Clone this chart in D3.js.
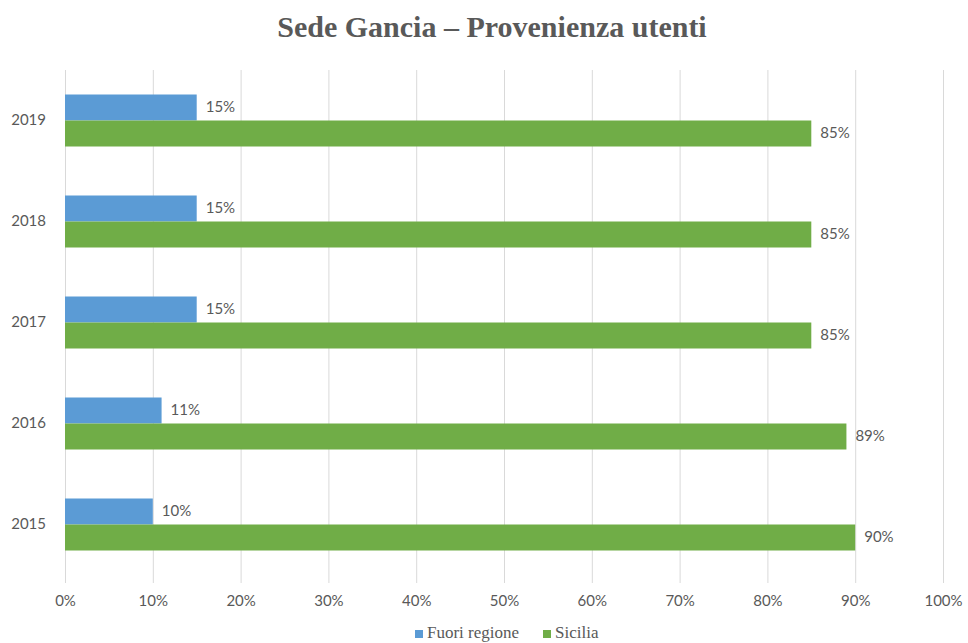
<!DOCTYPE html>
<html>
<head>
<meta charset="utf-8">
<script src="https://cdn.jsdelivr.net/npm/d3@7"></script>
<style>
  html, body { margin: 0; padding: 0; background: #fff; }
  svg { display: block; }
</style>
</head>
<body>
<svg id="chart" width="968" height="643"></svg>
<script>
// Years shown top to bottom
const years = ["2019", "2018", "2017", "2016", "2015"];
// Share of users (%) by origin
const fuoriRegione = [15, 15, 15, 11, 10];
const sicilia = [85, 85, 85, 89, 90];
const seriesNames = ["Fuori regione", "Sicilia"];
const seriesColors = ["#5B9BD5", "#70AD47"];
const xTicks = [0, 10, 20, 30, 40, 50, 60, 70, 80, 90, 100];

const svg = d3.select("#chart");
const margin = { left: 65, right: 25, top: 70, bottom: 68 };
const width = 968, height = 643;

const x = d3.scaleLinear().domain([0, 100]).range([margin.left, width - margin.right]);
const y = d3.scaleBand().domain(years).range([margin.top, height - margin.bottom]);
const barH = 26;

const textColor = "#595959";
const labelFont = "Lato, Calibri, 'Open Sans', sans-serif";
const serifFont = "'Liberation Serif', 'Times New Roman', serif";

// Title
svg.append("text")
  .attr("x", 492).attr("y", 37)
  .attr("text-anchor", "middle")
  .attr("font-family", serifFont)
  .attr("font-weight", "bold")
  .attr("font-size", 30)
  .attr("fill", textColor)
  .text("Sede Gancia \u2013 Provenienza utenti");

// Vertical gridlines + tick labels
const xAxis = d3.axisBottom(x).tickValues(xTicks).tickFormat(d => d + "%")
  .tickSize(-(height - margin.bottom - margin.top + 8)).tickPadding(12);
const gx = svg.append("g").attr("transform", `translate(0,${height - margin.bottom + 8})`).call(xAxis);
gx.select(".domain").remove();
gx.selectAll(".tick line").attr("stroke", "#d9d9d9").attr("stroke-width", 1);
gx.selectAll(".tick text").attr("fill", textColor).attr("font-family", labelFont).attr("font-size", 15);

// Category labels
const yAxis = d3.axisLeft(y).tickSize(0).tickPadding(19);
const gy = svg.append("g").attr("transform", `translate(${margin.left},0)`).call(yAxis);
gy.select(".domain").remove();
gy.selectAll(".tick text").attr("fill", textColor).attr("font-family", labelFont).attr("font-size", 15);

// Bars with value labels
const rows = years.map((yr, i) => ({ yr, vals: [fuoriRegione[i], sicilia[i]] }));
const groups = svg.append("g").selectAll("g").data(rows).join("g")
  .attr("transform", d => `translate(0,${y(d.yr) + y.bandwidth() / 2})`);

groups.each(function (d) {
  const g = d3.select(this);
  d.vals.forEach((v, k) => {
    const top = k === 0 ? -barH : 0;
    g.append("rect")
      .attr("x", x(0)).attr("y", top)
      .attr("width", x(v) - x(0)).attr("height", barH)
      .attr("fill", seriesColors[k]);
    g.append("text")
      .attr("x", x(v) + 9).attr("y", top + barH / 2 + 1)
      .attr("dominant-baseline", "middle")
      .attr("font-family", labelFont).attr("font-size", 15)
      .attr("fill", textColor)
      .text(v + "%");
  });
});

// Legend
const legend = svg.append("g").attr("transform", "translate(415,638)");
const legendX = [0, 128];
seriesNames.forEach((name, k) => {
  const lg = legend.append("g").attr("transform", `translate(${legendX[k]},0)`);
  lg.append("rect").attr("x", 0).attr("y", -8).attr("width", 8).attr("height", 8).attr("fill", seriesColors[k]);
  lg.append("text").attr("x", 12).attr("y", 0)
    .attr("font-family", serifFont)
    .attr("font-size", 17).attr("fill", textColor).text(name);
});
</script>
</body>
</html>
